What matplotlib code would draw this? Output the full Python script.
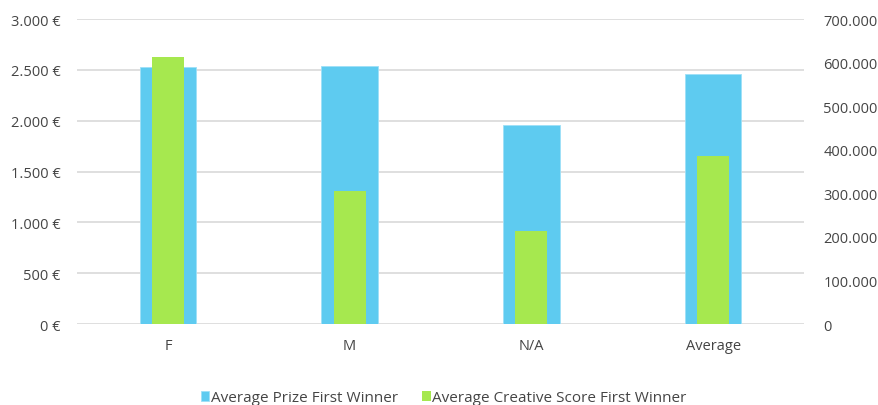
import matplotlib.pyplot as plt
from matplotlib.ticker import FuncFormatter
import numpy as np

# Data
categories = ["F", "M", "N/A", "Average"]
avg_prize = [2530, 2535, 1954, 2459]  # left axis, €
avg_creative = [613500, 305200, 212700, 385600]  # right axis

blue = "#5ECBF0"
green = "#A6E84F"
text_col = "#454545"

plt.rcParams['font.family'] = ['Open Sans', 'DejaVu Sans']

fig = plt.figure(figsize=(8.79, 4.06), dpi=100)
ax = fig.add_axes([0.0876, 0.1995, 0.8271, 0.7512])
ax2 = ax.twinx()

x = np.arange(len(categories))
ax.bar(x, avg_prize, width=0.31, color=blue, edgecolor="#9EE0F7", linewidth=0.6,
       zorder=2, label="Average Prize First Winner")
ax2.bar(x, avg_creative, width=0.176, color=green, zorder=3,
        label="Average Creative Score First Winner")

ax.set_xlim(-0.5, len(categories) - 0.5)
ax.set_ylim(0, 3000)
ax2.set_ylim(0, 700000)
ax.set_yticks(np.arange(0, 3001, 500))
ax2.set_yticks(np.arange(0, 700001, 100000))

ax.yaxis.set_major_formatter(FuncFormatter(lambda v, p: f"{int(v):,} €".replace(",", ".")))
ax2.yaxis.set_major_formatter(FuncFormatter(lambda v, p: f"{int(v):,}".replace(",", ".")))

ax.grid(axis="y", color="#D9D9D9", linewidth=1.2, zorder=0)
ax.set_axisbelow(True)
for a in (ax, ax2):
    for s in a.spines.values():
        s.set_visible(False)
    a.tick_params(length=0, labelsize=10.5, colors=text_col)
ax.tick_params(axis="y", pad=12)
ax2.tick_params(axis="y", pad=14)
ax.tick_params(axis="x", pad=10)

ax.set_xticks(x)
ax.set_xticklabels(categories)

h1, l1 = ax.get_legend_handles_labels()
h2, l2 = ax2.get_legend_handles_labels()
fig.legend(h1 + h2, l1 + l2, loc="lower center", bbox_to_anchor=(0.505, -0.035), ncol=2,
           frameon=False, fontsize=11, handlelength=0.55, handleheight=0.55,
           handletextpad=0.1, columnspacing=1.6, labelcolor=text_col)

fig.savefig("out.png", dpi=100)
